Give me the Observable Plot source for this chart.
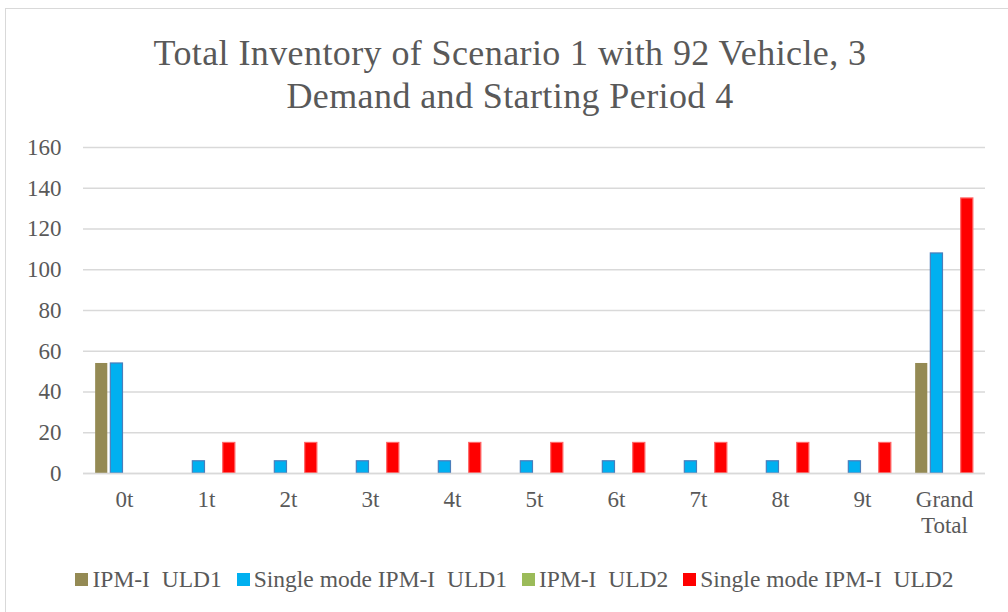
<!DOCTYPE html>
<html><head><meta charset="utf-8">
<script src="https://cdn.jsdelivr.net/npm/d3@7"></script>
<script src="https://cdn.jsdelivr.net/npm/@observablehq/plot@0.6"></script>
<style>
body{margin:0;background:#fff;font-family:"Times New Roman","Liberation Serif",Tinos,serif;}
#frame{position:absolute;left:5px;top:8px;width:1010px;height:610px;border:1px solid #d9d9d9;box-sizing:border-box}
#title{position:absolute;left:0;top:32px;width:1020px;text-align:center;font-size:36px;letter-spacing:0.4px;line-height:43px;color:#595959}
#chart{position:absolute;left:0;top:130px}
#legend{position:absolute;left:0;top:566px;width:1029px;display:flex;justify-content:center;align-items:center;font-size:23.5px;color:#595959;white-space:pre}
#legend .item{display:flex;align-items:center;margin-right:15px}
#legend .item:last-child{margin-right:0}
#legend .sw{display:inline-block;width:13px;height:13px;margin-right:4px}
</style>
</head><body>
<div id="frame"></div>
<div id="title">Total Inventory of Scenario 1 with 92 Vehicle, 3<br>Demand and Starting Period 4</div>
<div id="chart"></div>
<div id="legend"></div>
<script>
const categories = ["0t","1t","2t","3t","4t","5t","6t","7t","8t","9t","Grand Total"];
const series = ["IPM-I  ULD1","Single mode IPM-I  ULD1","IPM-I  ULD2","Single mode IPM-I  ULD2"];
const ipmUld1 =    [54, 0, 0, 0, 0, 0, 0, 0, 0, 0, 54];
const singleUld1 = [54, 6, 6, 6, 6, 6, 6, 6, 6, 6, 108];
const ipmUld2 =    [0, 0, 0, 0, 0, 0, 0, 0, 0, 0, 0];
const singleUld2 = [0, 15, 15, 15, 15, 15, 15, 15, 15, 15, 135];
const fills = ["#948a54", "#00b0f0", "#9bbb59", "#ff0000"];
const strokes = ["none", "#4a7ebb", "none", "#ff6666"];
const yTicks = [0, 20, 40, 60, 80, 100, 120, 140, 160];

const values = [ipmUld1, singleUld1, ipmUld2, singleUld2];
const rows = [];
series.forEach((s, si) => categories.forEach((c, ci) => {
  rows.push({cat: c, series: s, value: values[si][ci]});
}));

const barMarks = series.map((s, si) =>
  Plot.barY(rows.filter(d => d.series === s && d.value > 0), {
    fx: "cat", x: "series", y: "value",
    fill: fills[si], stroke: strokes[si], strokeWidth: 1.2
  })
);

const font = "'Times New Roman','Liberation Serif',Tinos,serif";
const chart = Plot.plot({
  width: 1008, height: 413,
  marginLeft: 83, marginRight: 23, marginTop: 17, marginBottom: 70,
  style: {fontFamily: font, fontSize: "23px", color: "#595959", background: "transparent", overflow: "visible"},
  fx: {domain: categories, padding: 0, round: false, label: null},
  x: {domain: series, axis: null, round: false, paddingInner: 0.2, paddingOuter: 0.8},
  y: {domain: [0, 160], label: null},
  marks: [
    Plot.gridY(yTicks, {stroke: "#d9d9d9", strokeOpacity: 1, strokeWidth: 1.5}),
    Plot.axisY(yTicks, {tickSize: 0, tickPadding: 22, label: null, fontSize: 23}),
    ...barMarks,
    Plot.ruleY([0], {stroke: "#d9d9d9", strokeWidth: 1.5}),
    Plot.axisFx({anchor: "bottom", tickSize: 0, tickPadding: 16, label: null, fontSize: 23, lineHeight: 1.1,
      tickFormat: d => d === "Grand Total" ? "Grand\nTotal" : d})
  ]
});
document.getElementById("chart").appendChild(chart);

const legend = document.getElementById("legend");
series.forEach((s, i) => {
  const item = document.createElement("span");
  item.className = "item";
  const sw = document.createElement("span");
  sw.className = "sw";
  sw.style.background = fills[i];
  item.appendChild(sw);
  item.appendChild(document.createTextNode(s));
  legend.appendChild(item);
});
</script>
</body></html>
